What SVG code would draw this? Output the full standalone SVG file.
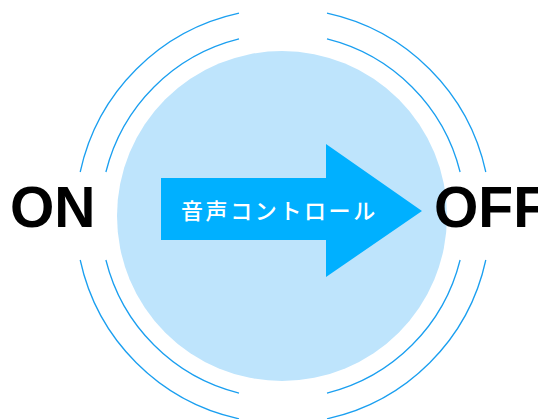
<svg xmlns="http://www.w3.org/2000/svg" width="538" height="419" viewBox="0 0 538 419">
<style>
.arc{fill:none;stroke:#1a9ff0;stroke-width:1.3}
.big{font-family:"Liberation Sans",Arial,sans-serif;font-weight:bold;font-size:57px;fill:#000}
.lbl{font-family:"Noto Sans CJK JP","Noto Sans CJK SC",sans-serif;font-weight:500;font-size:22px;fill:#fff;letter-spacing:2.6px}
</style>
<rect width="538" height="419" fill="#fff"/>
<g id="circle">
<circle cx="282" cy="216" r="165" fill="#bee4fc"/>
</g>
<g id="waves">
<path class="arc" d="M105.9,172 A182.5,182.5 0 0 1 239,38.9"/>
<path class="arc" d="M327,38.9 A182.5,182.5 0 0 1 460.1,172"/>
<path class="arc" d="M460.1,260 A182.5,182.5 0 0 1 327,393.1"/>
<path class="arc" d="M239,393.1 A182.5,182.5 0 0 1 105.9,260"/>
<path class="arc" d="M80.2,172 A207.5,207.5 0 0 1 239,13.2"/>
<path class="arc" d="M327,13.2 A207.5,207.5 0 0 1 485.8,172"/>
<path class="arc" d="M485.8,260 A207.5,207.5 0 0 1 327,418.8"/>
<path class="arc" d="M239,418.8 A207.5,207.5 0 0 1 80.2,260"/>
</g>
<g id="arrow">
<polygon points="161,178 326,178 326,144 422,211 326,277 326,240 161,240" fill="#00b0ff"/>
<text class="lbl" x="181" y="219">音声コントロール</text>
</g>
<g id="on"><text class="big" x="10" y="227">ON</text></g>
<g id="off"><text class="big" x="434" y="227">OFF</text></g>
</svg>
